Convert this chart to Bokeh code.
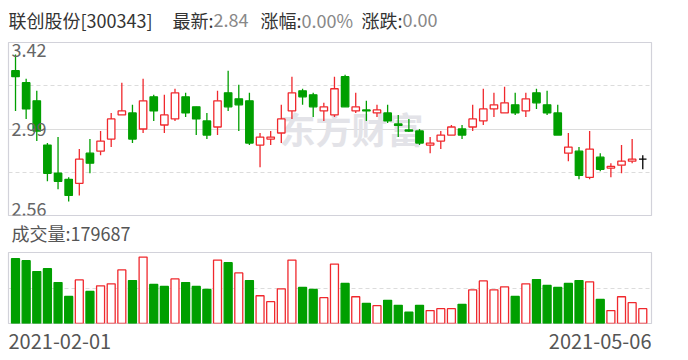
from bokeh.plotting import figure
from bokeh.models import ColumnDataSource, Range1d, Label, Grid, FixedTicker
from bokeh.core.properties import value
from bokeh.layouts import column
from bokeh.embed import file_html
from bokeh.resources import INLINE

# ---------------- data ----------------
stock_name = "联创股份"
stock_code = "300343"
date_labels = ["2021-02-01", "2021-05-06"]

opens = [3.28, 3.22, 3.13, 2.91, 2.77, 2.74, 2.72, 2.87, 2.88, 2.94,
         3.06, 3.07, 2.99, 3.15, 3.01, 3.04, 3.15, 3.10, 3.03, 3.00,
         3.17, 3.14, 3.13, 2.91, 2.94, 2.97, 3.08, 3.18, 3.16, 3.08,
         3.06, 3.25, 3.08, 3.085, 3.07, 3.07, 3.015, 2.985, 2.98, 2.91,
         2.93, 2.96, 2.99, 3.00, 3.03, 3.09, 3.07, 3.11, 3.08, 3.17,
         3.11, 3.07, 2.87, 2.88, 2.75, 2.85, 2.796, 2.81, 2.83, 2.84]
closes = [3.25, 3.09, 2.98, 2.77, 2.73, 2.66, 2.84, 2.82, 2.93, 3.04,
          3.08, 2.94, 3.13, 3.08, 3.06, 3.17, 3.07, 3.04, 2.96, 3.13,
          3.10, 3.11, 2.92, 2.95, 2.95, 3.04, 3.17, 3.15, 3.10, 3.10,
          3.19, 3.10, 3.10, 3.08, 3.085, 3.03, 3.008, 2.98, 2.92, 2.92,
          2.96, 3.00, 2.96, 3.04, 3.09, 3.11, 3.12, 3.07, 3.14, 3.12,
          3.07, 2.96, 2.90, 2.76, 2.89, 2.79, 2.804, 2.83, 2.84, 2.84]
highs = [3.36, 3.24, 3.18, 2.92, 2.95, 2.75, 2.89, 2.94, 2.98, 3.07,
         3.22, 3.11, 3.24, 3.16, 3.16, 3.19, 3.17, 3.10, 3.07, 3.18,
         3.28, 3.21, 3.17, 2.97, 2.98, 3.11, 3.25, 3.19, 3.17, 3.12,
         3.25, 3.26, 3.17, 3.13, 3.11, 3.11, 3.06, 3.04, 2.99, 2.95,
         2.98, 3.01, 3.01, 3.11, 3.19, 3.17, 3.20, 3.17, 3.17, 3.19,
         3.18, 3.11, 2.97, 2.90, 2.98, 2.87, 2.82, 2.91, 2.94, 2.86]
lows = [3.08, 3.04, 2.93, 2.73, 2.69, 2.63, 2.66, 2.77, 2.86, 2.90,
        3.06, 2.92, 2.97, 3.03, 2.97, 3.03, 3.05, 2.96, 2.94, 2.96,
        3.08, 2.98, 2.91, 2.80, 2.91, 2.92, 3.04, 3.11, 3.05, 3.03,
        3.05, 3.10, 3.07, 3.03, 3.05, 3.02, 2.95, 2.975, 2.91, 2.87,
        2.89, 2.96, 2.94, 2.98, 3.01, 3.05, 3.07, 3.06, 3.05, 3.09,
        3.06, 2.96, 2.83, 2.74, 2.74, 2.78, 2.75, 2.77, 2.82, 2.79]
volumes = [782600, 758700, 626900, 662800, 495100, 327400, 527100, 387300, 455200, 479200,
           646900, 519100, 802600, 471200, 447200, 539100, 495100, 447200, 411300, 766700,
           734700, 610900, 519100, 335400, 263500, 419300, 766700, 435200, 411300, 311500,
           718700, 483200, 323400, 243600, 215600, 279500, 219600, 135800, 219600, 155700,
           179700, 179700, 231600, 407300, 515100, 407300, 443200, 327400, 479200, 531100,
           459200, 435200, 483200, 519100, 503100, 291500, 155700, 323400, 251600, 179687]

price_labels = [3.42, 2.99, 2.56]
price_dash_ticks = [3.205, 2.775]
price_solid_ticks = [2.99]
vol_max = 858000
vol_dash_ticks = [429000]

# ---------------- styles ----------------
RED = "#f0282d"
GREEN = "#009f00"
BLACK = "#000000"
FONT = "Noto Sans CJK SC"
BORDER = "#d2d2da"
GRIDC = "#dcdcdc"
W = 680
BL, BR = 8, 29          # left / right borders shared by every panel (frames are aligned)

n = len(opens)
xs = list(range(n))
c_col, c_fill = [], []
for o, c in zip(opens, closes):
    if c > o:
        c_col.append(RED); c_fill.append("white")
    elif c < o:
        c_col.append(GREEN); c_fill.append(GREEN)
    else:
        c_col.append(BLACK); c_fill.append(BLACK)
v_col, v_fill = [], []
for i in range(n):
    prev = closes[i - 1] if i > 0 else opens[0]
    if closes[i] >= prev:
        v_col.append(RED); v_fill.append("white")
    else:
        v_col.append(GREEN); v_fill.append(GREEN)

src = ColumnDataSource(dict(
    x=xs, o=opens, c=closes, h=highs, l=lows,
    top=[max(a, b) for a, b in zip(opens, closes)],
    bot=[min(a, b) for a, b in zip(opens, closes)],
    col=c_col, fill=c_fill, vol=volumes, vcol=v_col, vfill=v_fill))


def strip(height, items):
    """A borderless figure used only to hold text; x is page pixels, y from its top."""
    f = figure(width=W, height=height, x_range=Range1d(BL, W - BR), y_range=Range1d(height, 0),
               output_backend="svg", toolbar_location=None,
               x_axis_location=None, y_axis_location=None,
               min_border_left=BL, min_border_right=BR, min_border_top=0, min_border_bottom=0)
    f.xgrid.visible = False
    f.ygrid.visible = False
    f.outline_line_color = None
    s = ColumnDataSource(dict(x=[it[1] for it in items], y=[it[2] for it in items],
                              t=[it[0] for it in items], c=[it[3] for it in items],
                              a=[it[5] for it in items]))
    f.text(x="x", y="y", text="t", text_color="c", text_align="a", source=s,
           text_font=value(FONT), text_font_size=items[0][4], text_baseline="middle")
    return f


# ---------------- header ----------------
latest = closes[-1]
chg = closes[-1] - closes[-2]
pct = chg / closes[-2] * 100
DARK, GREY = "#333333", "#888888"
header = [(f"{stock_name}[{stock_code}]", 8, 19.5, DARK, "18px", "left"),
          ("最新:", 213, 19.5, DARK, "18px", "right"),
          (f"{latest:.2f}", 213, 19.5, GREY, "18px", "left"),
          ("涨幅:", 301, 19.5, DARK, "18px", "right"),
          (f"{pct:.2f}%", 301, 19.5, GREY, "18px", "left"),
          ("涨跌:", 402, 19.5, DARK, "18px", "right"),
          (f"{chg:.2f}", 402, 19.5, GREY, "18px", "left")]
f_head = strip(41, header)

# ---------------- price panel ----------------
xr = Range1d(-0.66, 59.82)
p1 = figure(width=W, height=175, x_range=xr, y_range=Range1d(2.56, 3.42),
            output_backend="svg", toolbar_location=None,
            x_axis_location=None, y_axis_location=None,
            min_border_left=BL, min_border_right=BR, min_border_top=1, min_border_bottom=1)
p1.xgrid.visible = False
p1.ygrid.visible = False
p1.outline_line_color = BORDER
p1.outline_line_width = 1.2
p1.add_layout(Grid(dimension=1, ticker=FixedTicker(ticks=price_dash_ticks),
                   grid_line_color=GRIDC, grid_line_dash="4 3", grid_line_width=1.2))
p1.add_layout(Grid(dimension=1, ticker=FixedTicker(ticks=price_solid_ticks),
                   grid_line_color=GRIDC, grid_line_width=1.2))

p1.add_layout(Label(x=343, y=88, x_units="screen", y_units="screen", text="东方财富",
                    text_font=FONT, text_font_size="36px", text_font_style="bold",
                    text_color="#e3e3e8", text_align="center", text_baseline="middle",
                    level="underlay"))

p1.segment(x0="x", x1="x", y0="l", y1="h", source=src, line_color="col", line_width=1.3)
p1.vbar(x="x", top="top", bottom="bot", width=0.7, source=src,
        fill_color="fill", line_color="col", line_width=1.3)

for val in price_labels:
    base = "top" if val == max(price_labels) else ("bottom" if val == min(price_labels) else "middle")
    p1.add_layout(Label(x=3, y=val, x_units="screen", y_units="data", text=f"{val:.2f}",
                        text_font=FONT, text_font_size="18px", text_color="#666666",
                        text_baseline=base))

# ---------------- volume label ----------------
f_mid = strip(35, [(f"成交量:{volumes[-1]}", 11, 16.5, "#555555", "18px", "left")])

# ---------------- volume panel ----------------
p2 = figure(width=W, height=73, x_range=xr, y_range=Range1d(0, vol_max),
            output_backend="svg", toolbar_location=None,
            x_axis_location=None, y_axis_location=None,
            min_border_left=BL, min_border_right=BR, min_border_top=1, min_border_bottom=1)
p2.xgrid.visible = False
p2.ygrid.visible = False
p2.outline_line_color = BORDER
p2.outline_line_width = 1.2
p2.add_layout(Grid(dimension=1, ticker=FixedTicker(ticks=vol_dash_ticks),
                   grid_line_color=GRIDC, grid_line_dash="4 3", grid_line_width=1.2))
p2.vbar(x="x", top="vol", bottom=0, width=0.75, source=src,
        fill_color="vfill", line_color="vcol", line_width=1.3)

# ---------------- date labels ----------------
f_dates = strip(28, [(date_labels[0], 8, 16.5, "#555555", "20px", "left"),
                     (date_labels[1], W - BR, 16.5, "#555555", "20px", "right")])

layout = column(f_head, p1, f_mid, p2, f_dates, spacing=0)
open("out.html", "w").write(file_html(layout, INLINE))
